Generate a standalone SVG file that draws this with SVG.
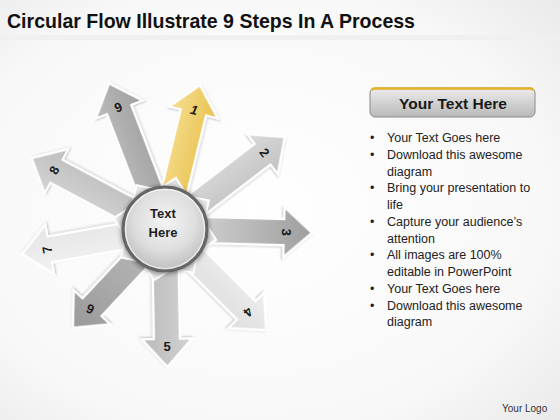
<svg xmlns="http://www.w3.org/2000/svg" width="560" height="420" viewBox="0 0 560 420">
<defs>
<radialGradient id="bg" cx="0.45" cy="0.5" r="0.75">
<stop offset="0" stop-color="#ffffff"/><stop offset="0.7" stop-color="#f8f8f8"/><stop offset="1" stop-color="#e9e9e9"/>
</radialGradient>
<linearGradient id="gY" x1="0" y1="0" x2="1" y2="0"><stop offset="0" stop-color="#f7df92"/><stop offset="1" stop-color="#e8c14e"/></linearGradient>
<linearGradient id="g2" x1="0" y1="0" x2="1" y2="0"><stop offset="0" stop-color="#dadada"/><stop offset="1" stop-color="#c2c2c2"/></linearGradient>
<linearGradient id="g3" x1="0" y1="1" x2="0" y2="0"><stop offset="0" stop-color="#dedede"/><stop offset="1" stop-color="#9e9e9e"/></linearGradient>
<linearGradient id="g4" x1="0" y1="0" x2="1" y2="0"><stop offset="0" stop-color="#ededed"/><stop offset="1" stop-color="#dedede"/></linearGradient>
<linearGradient id="g5" x1="0" y1="0" x2="1" y2="0"><stop offset="0" stop-color="#d2d2d2"/><stop offset="1" stop-color="#bababa"/></linearGradient>
<linearGradient id="g6" x1="0" y1="1" x2="0" y2="0"><stop offset="0" stop-color="#bdbdbd"/><stop offset="1" stop-color="#9a9a9a"/></linearGradient>
<linearGradient id="g7" x1="0" y1="0" x2="1" y2="0"><stop offset="0" stop-color="#f2f2f2"/><stop offset="1" stop-color="#e4e4e4"/></linearGradient>
<linearGradient id="g8" x1="0" y1="0" x2="1" y2="0"><stop offset="0" stop-color="#d4d4d4"/><stop offset="1" stop-color="#bdbdbd"/></linearGradient>
<linearGradient id="g9" x1="0" y1="0" x2="1" y2="0"><stop offset="0" stop-color="#bcbcbc"/><stop offset="1" stop-color="#9f9f9f"/></linearGradient>
<radialGradient id="ball" cx="0.5" cy="0.4" r="0.6">
<stop offset="0" stop-color="#f4f4f4"/><stop offset="0.6" stop-color="#dedede"/><stop offset="1" stop-color="#bdbdbd"/>
</radialGradient>
<linearGradient id="btn" x1="0" y1="0" x2="0" y2="1"><stop offset="0" stop-color="#ececec"/><stop offset="1" stop-color="#b9b9b9"/></linearGradient>
<filter id="sh" x="-20%" y="-20%" width="140%" height="140%"><feDropShadow dx="1" dy="1" stdDeviation="1.2" flood-color="#000" flood-opacity="0.25"/></filter>
<filter id="halo" x="-30%" y="-30%" width="160%" height="160%"><feDropShadow dx="0" dy="1" stdDeviation="2.5" flood-color="#000" flood-opacity="0.5"/></filter>
</defs>
<style>
.arr{stroke:#ffffff;stroke-width:2.2;stroke-linejoin:miter;filter:url(#sh)}
.num{font-family:"Liberation Sans",Arial,sans-serif;font-weight:bold;font-size:13px;fill:#1a1a1a;text-anchor:middle}
.bl{font-family:"Liberation Sans",Arial,sans-serif;font-size:12.5px;fill:#222}
.sq{stroke:#ffffff;stroke-width:2}
</style>
<rect x="0" y="0" width="560" height="420" fill="url(#bg)"/>
<rect x="0" y="35" width="560" height="5" fill="#f0f0f0"/>
<text x="7" y="28" font-family="'Liberation Sans',Arial,sans-serif" font-weight="bold" font-size="20.5" fill="#111" textLength="408" lengthAdjust="spacingAndGlyphs">Circular Flow Illustrate 9 Steps In A Process</text>

<g id="connectors">
<g id="arrow9" transform="translate(165,229) rotate(-21)">
<path class="arr" fill="url(#g9)" d="M-13,0 L-13,-128 L-25,-128 L0,-156 L25,-128 L13,-128 L13,0 Z"/>
<text class="num" x="0" y="-126">9</text></g>
<g id="arrow8" transform="translate(165,229) rotate(-62)">
<path class="arr" fill="url(#g8)" d="M-13,0 L-13,-123 L-25,-123 L0,-151 L25,-123 L13,-123 L13,0 Z"/>
<text class="num" x="0" y="-121">8</text></g>
<g id="arrow7" transform="translate(165,229) rotate(-100)">
<path class="arr" fill="url(#g7)" d="M-13,0 L-13,-117 L-25,-117 L0,-145 L25,-117 L13,-117 L13,0 Z"/>
<text class="num" x="0" y="-115">7</text></g>
<g id="arrow6" transform="translate(165,229) rotate(223)">
<path class="arr" fill="url(#g6)" d="M-13,0 L-13,-107 L-25,-107 L0,-135 L25,-107 L13,-107 L13,0 Z"/>
<text class="num" x="0" y="-105" transform="rotate(-20 0 -110)">6</text></g>
<g id="arrow5" transform="translate(165,229) rotate(179)">
<path class="arr" fill="url(#g5)" d="M-13,0 L-13,-110 L-25,-110 L0,-138 L25,-110 L13,-110 L13,0 Z"/>
<text class="num" x="0" y="-112" transform="rotate(181 0 -117)">5</text></g>
<g id="arrow4" transform="translate(165,229) rotate(135)">
<path class="arr" fill="url(#g4)" d="M-13,0 L-13,-115 L-25,-115 L0,-143 L25,-115 L13,-115 L13,0 Z"/>
<text class="num" x="0" y="-113">4</text></g>
<g id="arrow3" transform="translate(165,229) rotate(91.5)">
<path class="arr" fill="url(#g3)" d="M-13,0 L-13,-119 L-25,-119 L0,-147 L25,-119 L13,-119 L13,0 Z"/>
<text class="num" x="0" y="-117">3</text></g>
<g id="arrow2" transform="translate(165,229) rotate(52.5)">
<path class="arr" fill="url(#g2)" d="M-13,0 L-13,-123 L-25,-123 L0,-151 L25,-123 L13,-123 L13,0 Z"/>
<text class="num" x="0" y="-121">2</text></g>
<g id="arrow1" transform="translate(165,229) rotate(13.7)">
<path class="arr" fill="url(#gY)" d="M-13,0 L-13,-120 L-25,-120 L0,-148 L25,-120 L13,-120 L13,0 Z"/>
<text class="num" x="0" y="-118" font-style="italic">1</text></g>
</g>

<g id="center">
<rect class="sq" x="-37" y="-37" width="74" height="74" transform="translate(165,229) rotate(12)" fill="#e6e6e6"/>
<rect class="sq" x="-37" y="-37" width="74" height="74" transform="translate(165,229) rotate(57)" fill="#e2e2e2"/>
<circle cx="165" cy="229" r="42" fill="url(#ball)" stroke="#666666" stroke-width="3.2" filter="url(#halo)"/>
<circle cx="165" cy="229" r="39.5" fill="none" stroke="#ffffff" stroke-opacity="0.7" stroke-width="1.2"/>
<text x="163" y="218" font-family="'Liberation Sans',Arial,sans-serif" font-weight="bold" font-size="13" fill="#1e1e1e" text-anchor="middle">Text</text>
<text x="163" y="237" font-family="'Liberation Sans',Arial,sans-serif" font-weight="bold" font-size="13" fill="#1e1e1e" text-anchor="middle">Here</text>
</g>

<g id="header-button">
<rect x="370" y="88" width="165" height="29" rx="5" fill="url(#btn)" stroke="#8a8a8a" stroke-width="1"/>
<path d="M372,90.5 Q372,88.5 375,88.5 L530,88.5 Q533,88.5 533,90.5" fill="none" stroke="#e3b429" stroke-width="2.5"/>
<text x="453" y="109" font-family="'Liberation Sans',Arial,sans-serif" font-weight="bold" font-size="15.5" fill="#1a1a1a" text-anchor="middle">Your Text Here</text>
</g>

<g id="bullets">
<text class="bl" x="370" y="142">•</text><text class="bl" x="387" y="142">Your Text Goes here</text>
<text class="bl" x="370" y="158.7">•</text><text class="bl" x="387" y="158.7">Download this awesome</text>
<text class="bl" x="387" y="175.5">diagram</text>
<text class="bl" x="370" y="192.2">•</text><text class="bl" x="387" y="192.2">Bring your presentation to</text>
<text class="bl" x="387" y="209">life</text>
<text class="bl" x="370" y="225.7">•</text><text class="bl" x="387" y="225.7">Capture your audience’s</text>
<text class="bl" x="387" y="242.5">attention</text>
<text class="bl" x="370" y="259.2">•</text><text class="bl" x="387" y="259.2">All images are 100%</text>
<text class="bl" x="387" y="276">editable in PowerPoint</text>
<text class="bl" x="370" y="292.7">•</text><text class="bl" x="387" y="292.7">Your Text Goes here</text>
<text class="bl" x="370" y="309.5">•</text><text class="bl" x="387" y="309.5">Download this awesome</text>
<text class="bl" x="387" y="326.2">diagram</text>
</g>

<text x="502" y="411.5" font-family="'Liberation Sans',Arial,sans-serif" font-size="10" fill="#333">Your Logo</text>
</svg>
